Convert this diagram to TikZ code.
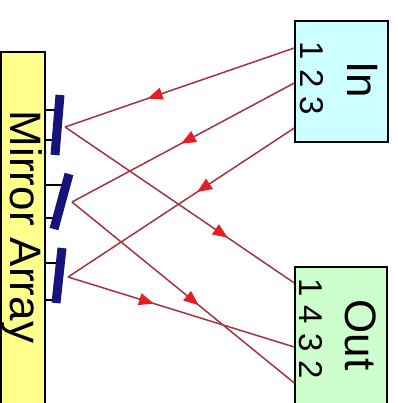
\documentclass[tikz,border=0pt]{standalone}
\usepackage{fontspec}
\setmainfont{Liberation Sans}
\usetikzlibrary{arrows.meta, decorations.markings}
\definecolor{MirYellow}{HTML}{FFFF8C}
\definecolor{InCyan}{HTML}{CCFFFF}
\definecolor{OutGreen}{HTML}{CCFFCC}
\definecolor{MirNavy}{HTML}{14147A}
\definecolor{RayRed}{HTML}{A3343F}
\definecolor{TipRed}{HTML}{E41E26}
\tikzset{
  boxed/.style={draw=black, line width=1.4pt, inner sep=0pt},
  ray/.style={draw=RayRed, line width=1.5pt, postaction={decorate},
    decoration={markings, mark=at position #1 with {\arrow[TipRed]{Triangle[length=15pt, width=12pt]}}}},
  mirror/.style={draw=MirNavy, line width=9pt},
  bigtext/.style={font=\fontsize{44}{44}\selectfont, rotate=-90, anchor=base, inner sep=0pt},
  numtext/.style={font=\fontsize{33}{33}\selectfont, rotate=-90, anchor=base, inner sep=0pt}
}

\begin{document}
\begin{tikzpicture}[x=1pt, y=-1pt]
  \clip (0,0) rectangle (397,403);
  \fill[white] (0,0) rectangle (397,403);
  \node[boxed, fill=MirYellow, minimum width=44pt, minimum height=368pt] (array) at (23,236) {};
  \node[boxed, fill=InCyan, minimum width=93pt, minimum height=121pt] (inbox) at (341.5,81.5) {};
  \node[boxed, fill=OutGreen, minimum width=92pt, minimum height=153pt] (outbox) at (341,343.5) {};
  \node[bigtext] (arraylabel) at (10,227) {Mirror Array};
  \node[bigtext] (inlabel) at (347,80) {In};
  \node[numtext] (innums) at (300,78.5) {1 2 3};
  \node[bigtext] (outlabel) at (345,335) {Out};
  \node[numtext] (outnums) at (299,328.5) {1 4 3 2};
  \foreach \y/\x in {110/57,140/56,185/66,218/58,263/60,300/56}{\draw[line width=1.2pt] (array.east |- 0,\y) -- (\x,\y);}
  \draw[mirror] (60,95) -- (55,155);
  \draw[mirror] (69,174) -- (54,229);
  \draw[mirror] (62,248) -- (56,303);
  \coordinate (m1) at (65,127);
  \coordinate (m2) at (72,202);
  \coordinate (m3) at (68,277);
  \coordinate (in1) at (inbox.west |- 0,48);
  \coordinate (in2) at (inbox.west |- 0,83);
  \coordinate (in3) at (inbox.west |- 0,128);
  \coordinate (out1) at (outbox.west |- 0,283);
  \coordinate (out2) at (outbox.west |- 0,383);
  \coordinate (out3) at (outbox.west |- 0,347);
  \draw[ray=0.64] (in1) -- (m1);
  \draw[ray=0.51] (in2) -- (m2);
  \draw[ray=0.43] (in3) -- (m3);
  \draw[ray=0.71] (m1) -- (out1);
  \draw[ray=0.57] (m2) -- (out2);
  \draw[ray=0.38] (m3) -- (out3);
\end{tikzpicture}
\end{document}
